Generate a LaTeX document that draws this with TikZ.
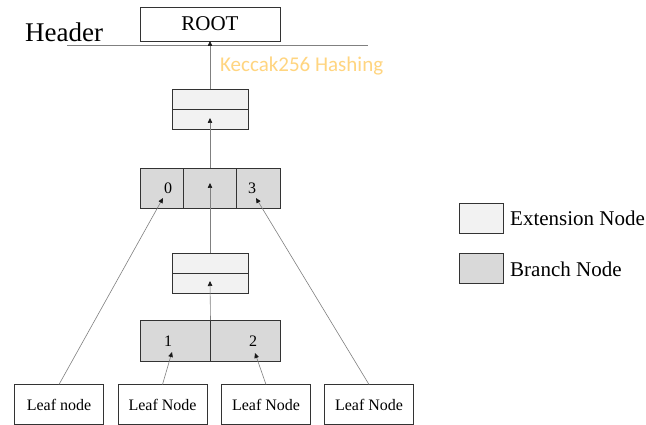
\documentclass[tikz,border=0pt]{standalone}
\usepackage{fontspec}
\setmainfont{Liberation Serif}
\newfontfamily\hashfont{Carlito}
\usetikzlibrary{arrows.meta}
\definecolor{extfill}{HTML}{F2F2F2}
\definecolor{brfill}{HTML}{D9D9D9}
\definecolor{hashcol}{HTML}{FFD580}
\begin{document}
\begin{tikzpicture}[x=1pt,y=-1pt,
  box/.style={draw=black!80,line width=0.8pt,inner sep=0pt,outer sep=0pt,anchor=center},
  conn/.style={draw=black!50,line width=0.6pt},
  arr/.style={conn,-{Triangle[length=5pt,width=4.5pt,color=black!90]}},
  leaf/.style={box,fill=white,minimum width=89pt,minimum height=40pt,font=\fontsize{16}{18}\selectfont},
  extc/.style={box,fill=extfill,minimum width=76pt,minimum height=20pt},
  brc/.style={box,fill=brfill,minimum height=40pt},
  lbl/.style={font=\fontsize{16}{18}\selectfont,inner sep=0pt},
  legtxt/.style={font=\fontsize{21}{24}\selectfont,inner sep=0pt,anchor=west}]
\useasboundingbox (0,0) rectangle (646,425);
\fill[white] (0,0) rectangle (646,425);

% header
\node[box,fill=white,minimum width=140pt,minimum height=34pt,font=\fontsize{21}{24}\selectfont] (root) at (210,24) {ROOT};
\node[font=\fontsize{27}{30}\selectfont,inner sep=0pt,anchor=west] (hdr) at (25,32) {Header};
\coordinate (hl) at (67,45);
\coordinate (hr) at (368,45);
\draw[conn] (hl) -- (hr);
\node[font=\hashfont\fontsize{21}{24}\selectfont,text=hashcol,inner sep=0pt,anchor=west] (hash) at (220,66) {Keccak256 Hashing};

% extension node 1
\node[extc] (e1t) at (210,99.5) {};
\node[extc] (e1b) at (210,119.5) {};
\coordinate (e1tip) at (210,118);

% branch node 1
\node[brc,minimum width=43pt] (b1a) at (161.5,188) {};
\node[brc,minimum width=53pt] (b1b) at (210,188) {};
\node[brc,minimum width=43.5pt] (b1c) at (258.25,188) {};
\node[lbl] (l0) at (168,188) {0};
\node[lbl] (l3) at (252,188) {3};
\coordinate (b1tip) at (210,183);
\coordinate (t0) at (163,198);
\coordinate (t3) at (256,198);

% extension node 2
\node[extc] (e2t) at (210,263) {};
\node[extc] (e2b) at (210,283) {};
\coordinate (e2tip) at (210,281);

% branch node 2
\node[brc,minimum width=70.5pt,minimum height=41pt] (b2a) at (175.25,340.5) {};
\node[brc,minimum width=69.5pt,minimum height=41pt] (b2b) at (245.25,340.5) {};
\node[lbl] (l1) at (168,341) {1};
\node[lbl] (l2) at (253,341) {2};
\coordinate (t1) at (172,352);
\coordinate (t2) at (255,353);

% leaves
\node[leaf] (leaf1) at (59,404.5) {Leaf node};
\node[leaf] (leaf2) at (162.5,404.5) {Leaf Node};
\node[leaf] (leaf3) at (266,404.5) {Leaf Node};
\node[leaf] (leaf4) at (369,404.5) {Leaf Node};

% connectors
\draw[arr] (e1t.north) -- (root.south);
\draw[arr] (b1b.north) -- (e1tip);
\draw[arr] (e2t.north) -- (b1tip);
\draw[arr] (b2a.north east) -- (e2tip);
\draw[arr] (leaf1.north) -- (t0);
\draw[arr] (leaf4.north) -- (t3);
\draw[arr] (leaf2.north) -- (t1);
\draw[arr] (leaf3.north) -- (t2);

% legend
\node[box,fill=extfill,minimum width=44pt,minimum height=30pt] (legE) at (481,218) {};
\node[legtxt] (legEt) at (510,218) {Extension Node};
\node[box,fill=brfill,minimum width=44pt,minimum height=30pt] (legB) at (481,268) {};
\node[legtxt] (legBt) at (510,269) {Branch Node};
\end{tikzpicture}
\end{document}
